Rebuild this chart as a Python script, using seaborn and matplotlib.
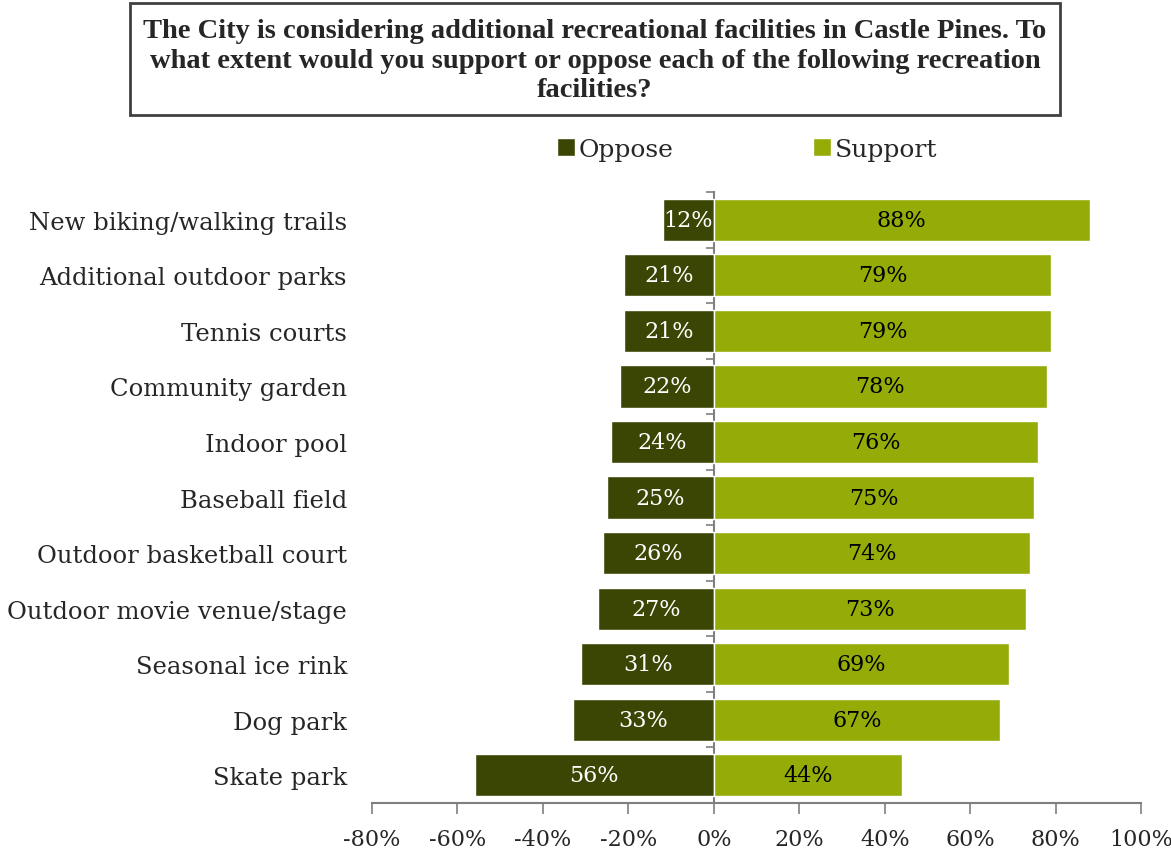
import matplotlib
matplotlib.use("Agg")
import matplotlib.pyplot as plt
from matplotlib.patches import Rectangle, Patch
import seaborn as sns
import pandas as pd

facilities = [
    "New biking/walking trails",
    "Additional outdoor parks",
    "Tennis courts",
    "Community garden",
    "Indoor pool",
    "Baseball field",
    "Outdoor basketball court",
    "Outdoor movie venue/stage",
    "Seasonal ice rink",
    "Dog park",
    "Skate park",
]
oppose = [12, 21, 21, 22, 24, 25, 26, 27, 31, 33, 56]
support = [88, 79, 79, 78, 76, 75, 74, 73, 69, 67, 44]
x_ticks = [-80, -60, -40, -20, 0, 20, 40, 60, 80, 100]

title = ("The City is considering additional recreational facilities in Castle Pines. To\n"
         "what extent would you support or oppose each of the following recreation\n"
         "facilities?")

OPPOSE_COLOR = "#3c4604"
SUPPORT_COLOR = "#95ab08"
AXIS_COLOR = "#7f7f7f"
TEXT_COLOR = "#262626"
SERIF = ["DejaVu Serif", "Liberation Serif"]

sns.set_theme(style="white")
plt.rcParams["font.family"] = SERIF

df = pd.DataFrame({
    "facility": facilities,
    "oppose": [-v for v in oppose],
    "support": support,
})

fig = plt.figure(figsize=(11.71, 8.53), dpi=100)
ax = fig.add_axes([0.3177, 0.0574, 0.6567, 0.7163])

sns.barplot(data=df, y="facility", x="oppose", color=OPPOSE_COLOR, orient="h",
            width=0.76, saturation=1, ax=ax, order=facilities)
sns.barplot(data=df, y="facility", x="support", color=SUPPORT_COLOR, orient="h",
            width=0.76, saturation=1, ax=ax, order=facilities)

opp_bars = ax.containers[0]
sup_bars = ax.containers[1]
ax.bar_label(opp_bars, labels=[f"{v}%" for v in oppose], label_type="center",
             color="white", fontsize=16)
ax.bar_label(sup_bars, labels=[f"{v}%" for v in support], label_type="center",
             color="black", fontsize=16)

xmin, xmax = x_ticks[0], x_ticks[-1]
ax.set_xlim(xmin, xmax)
n = len(facilities)
ax.set_ylim(n - 0.5, -0.5)
ax.set_xticks(x_ticks)
ax.set_xticklabels([f"{t}%" for t in x_ticks], fontsize=16, color=TEXT_COLOR)
ax.tick_params(axis="x", direction="out", length=8, width=1.2, color=AXIS_COLOR,
               pad=10, bottom=True)
ax.tick_params(axis="y", length=0, pad=18, labelsize=17.5, labelcolor=TEXT_COLOR)
ax.set_xlabel("")
ax.set_ylabel("")

for side in ["top", "right", "left"]:
    ax.spines[side].set_visible(False)
ax.spines["bottom"].set_color(AXIS_COLOR)
ax.spines["bottom"].set_linewidth(1.5)

# vertical zero line with category-boundary ticks on its left side
zero_frac = (0 - xmin) / (xmax - xmin)
sec = ax.secondary_yaxis(zero_frac)
sec.set_yticks([i - 0.5 for i in range(n + 1)])
sec.set_yticklabels([])
sec.yaxis.set_ticks_position("left")
sec.tick_params(axis="y", which="both", direction="out", length=6, width=1.2,
                color=AXIS_COLOR, right=False)
sec.spines["left"].set_color(AXIS_COLOR)
sec.spines["left"].set_linewidth(1.5)

# legend
handles = [Patch(facecolor=OPPOSE_COLOR, label="Oppose"),
           Patch(facecolor=SUPPORT_COLOR, label="Support")]
fig.legend(handles=handles, loc="center", bbox_to_anchor=(0.638, 0.824), ncol=2,
           frameon=False, fontsize=18, handlelength=0.7, handleheight=0.7,
           handletextpad=0.15, columnspacing=5.6, labelcolor=TEXT_COLOR)

# boxed title
fig.patches.append(Rectangle((130 / 1171, 1 - 116 / 853), 930 / 1171, 112 / 853,
                             transform=fig.transFigure, fill=False,
                             edgecolor="#404040", linewidth=2))
fig.text(0.508, 1 - 61 / 853, title, ha="center", va="center", fontsize=20.5,
         fontweight="bold", color=TEXT_COLOR, linespacing=1.25,
         family=["Liberation Serif", "DejaVu Serif"])

fig.savefig("out.png", dpi=100, facecolor="white")
